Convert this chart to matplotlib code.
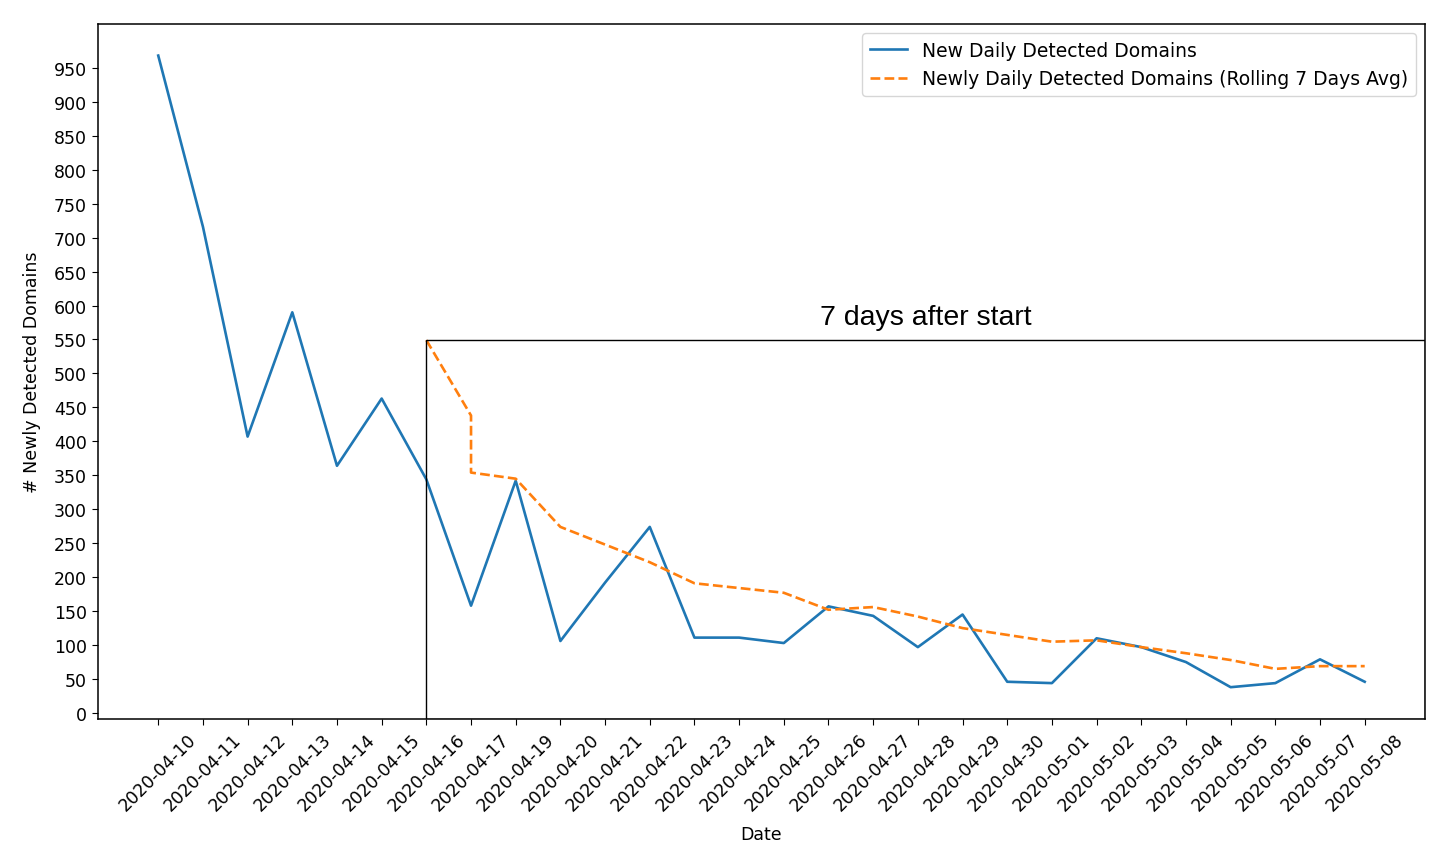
import matplotlib as mpl
mpl.use('Agg')
import matplotlib.pyplot as plt
import numpy as np
from matplotlib.patches import Rectangle

# dates as shown on the chart (2020-04-18 is missing)
dates = ['2020-04-10', '2020-04-11', '2020-04-12', '2020-04-13', '2020-04-14',
         '2020-04-15', '2020-04-16', '2020-04-17', '2020-04-19', '2020-04-20',
         '2020-04-21', '2020-04-22', '2020-04-23', '2020-04-24', '2020-04-25',
         '2020-04-26', '2020-04-27', '2020-04-28', '2020-04-29', '2020-04-30',
         '2020-05-01', '2020-05-02', '2020-05-03', '2020-05-04', '2020-05-05',
         '2020-05-06', '2020-05-07', '2020-05-08']
daily = [968, 716, 407, 590, 364, 463, 344, 158, 342, 106,
         192, 274, 111, 111, 103, 157, 143, 97, 145, 46,
         44, 110, 97, 75, 38, 44, 79, 46]

# rolling average (04-17 appears twice -> vertical step)
roll_dates = ['2020-04-16', '2020-04-17', '2020-04-17', '2020-04-19', '2020-04-20',
              '2020-04-21', '2020-04-22', '2020-04-23', '2020-04-24', '2020-04-25',
              '2020-04-26', '2020-04-27', '2020-04-28', '2020-04-29', '2020-04-30',
              '2020-05-01', '2020-05-02', '2020-05-03', '2020-05-04', '2020-05-05',
              '2020-05-06', '2020-05-07', '2020-05-08']
rolling = [549, 438, 354, 345, 274, 248, 222, 191, 184, 177,
           152, 156, 142, 125, 115, 105, 107, 97, 88, 78,
           65, 69, 69]

box_start = '2020-04-16'
box_label = '7 days after start'

plt.rcParams['font.size'] = 12.5
plt.rcParams['axes.linewidth'] = 1.1
plt.rcParams['xtick.major.size'] = 4.5
plt.rcParams['ytick.major.size'] = 4.5

fig = plt.figure(figsize=(14.4, 8.62), dpi=100)
ax = fig.add_subplot(111)
fig.subplots_adjust(left=0.068, right=0.9896, top=0.971, bottom=0.165)

ax.plot(dates, daily, '-', color='#1f77b4', lw=1.9, label='New Daily Detected Domains')
ax.plot(roll_dates, rolling, '--', color='#ff7f0e', lw=1.9,
        label='Newly Daily Detected Domains (Rolling 7 Days Avg)')

xlo, xhi = ax.get_xlim()
ylo, yhi = ax.get_ylim()
x0 = dates.index(box_start)
top = rolling[0]
ax.add_patch(Rectangle((x0, ylo), xhi - x0, top - ylo, fill=False,
                       edgecolor='black', lw=1.0, zorder=3))
ax.set_xlim(xlo, xhi)
ax.set_ylim(ylo, yhi)
ax.annotate(box_label, xy=((x0 + xhi) / 2, top), xytext=(0, 7),
            textcoords='offset points', ha='center', va='bottom',
            fontsize=20.5, family='Liberation Sans')

ax.set_yticks(np.arange(0, 1000, 50))
plt.xticks(rotation=45)
ax.set_xlabel('Date', labelpad=8)
ax.set_ylabel('# Newly Detected Domains', labelpad=9)
ax.legend(loc='upper right', fontsize=13.5)

plt.savefig('out.png', dpi=100)
plt.close()
